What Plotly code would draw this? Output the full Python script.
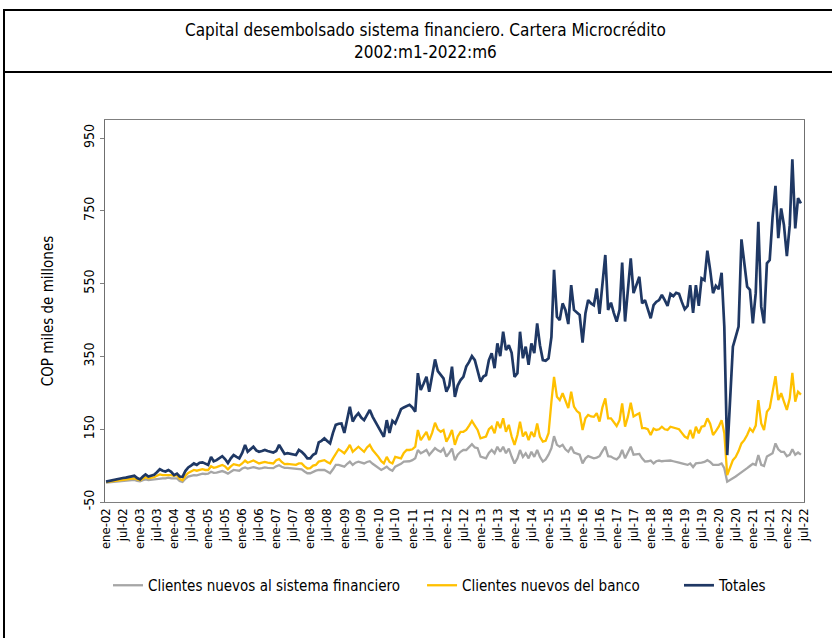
import pandas as pd
import plotly.graph_objects as go

# Monthly disbursements, COP miles de millones, ene-2002 .. jun-2022
clientes_sistema = [
    3, 4, 5, 6, 6, 7, 8, 8, 9, 10, 11, 8,
    7, 10, 12, 10, 11, 12, 14, 16, 15, 15, 17, 15,
    14, 15, 8, 5, 14, 20, 22, 24, 23, 26, 28, 27,
    28, 33, 30, 31, 33, 35, 32, 28, 33, 38, 37, 36,
    42, 45, 42, 44, 46, 44, 42, 43, 45, 44, 44, 43,
    48, 51, 47, 44, 44, 43, 42, 41, 40, 40, 34, 29,
    29, 33, 36, 38, 38, 38, 34, 29, 40, 52, 52, 50,
    47, 55, 61, 52, 58, 61, 58, 56, 60, 62, 55, 49,
    44, 38, 42, 47, 40, 36, 47, 50, 55, 61, 61, 62,
    65, 70, 93, 84, 88, 93, 79, 90, 98, 92, 88, 97,
    75, 85, 97, 65, 80, 88, 93, 93, 100, 109, 100, 98,
    75, 72, 70, 85, 93, 84, 102, 88, 102, 84, 97, 75,
    56, 70, 93, 74, 84, 70, 88, 74, 93, 74, 61, 67,
    80, 98, 131, 107, 102, 107, 95, 88, 102, 86, 82, 80,
    56, 70, 76, 73, 70, 72, 76, 90, 102, 76, 75, 70,
    67, 75, 93, 70, 84, 102, 80, 81, 82, 70, 61, 62,
    64, 56, 62, 64, 62, 63, 64, 64, 62, 61, 58, 56,
    54, 52, 56, 46, 56, 56, 58, 60, 65, 60, 52, 52,
    52, 56, 43, 6, 10, 15, 20, 26, 31, 38, 43, 49,
    55, 52, 79, 52, 49, 75, 80, 84, 111, 95, 88, 88,
    76, 80, 95, 80, 86, 80,
]

clientes_banco = [
    5, 6, 7, 8, 9, 10, 11, 12, 12, 14, 15, 12,
    10, 14, 18, 15, 16, 18, 22, 26, 24, 24, 26, 24,
    22, 24, 14, 10, 22, 30, 34, 38, 36, 38, 40, 38,
    38, 48, 44, 46, 48, 52, 48, 40, 48, 54, 52, 50,
    56, 64, 58, 62, 64, 60, 56, 58, 60, 58, 58, 56,
    65, 68, 60, 54, 55, 54, 52, 52, 56, 56, 48, 42,
    43, 50, 52, 61, 63, 65, 60, 56, 70, 84, 95, 90,
    84, 95, 107, 88, 95, 102, 95, 88, 100, 107, 93, 85,
    74, 62, 56, 74, 60, 56, 74, 72, 70, 85, 93, 93,
    95, 102, 148, 120, 130, 143, 120, 140, 168, 150, 143, 148,
    116, 130, 148, 107, 130, 143, 143, 148, 160, 173, 160, 148,
    125, 128, 130, 150, 157, 139, 171, 153, 180, 143, 162, 130,
    107, 134, 171, 130, 143, 120, 143, 129, 166, 129, 116, 118,
    139, 226, 294, 239, 230, 249, 226, 208, 253, 212, 200, 194,
    148, 180, 189, 185, 184, 194, 171, 210, 235, 180, 180, 170,
    159, 175, 221, 157, 184, 223, 185, 190, 194, 153, 153, 150,
    134, 152, 148, 150, 157, 150, 148, 157, 155, 152, 150, 140,
    130, 125, 148, 125, 157, 139, 157, 159, 180, 165, 134, 145,
    157, 175, 139, 24, 43, 65, 74, 90, 111, 120, 134, 152,
    143, 160, 230, 166, 148, 198, 208, 250, 296, 230, 249, 226,
    203, 235, 305, 226, 253, 245,
]

totales = [
    6, 8, 10, 12, 14, 15, 16, 17, 18, 20, 22, 16,
    12, 20, 26, 20, 22, 25, 32, 40, 36, 34, 38, 33,
    24, 28, 20, 19, 35, 45, 50, 56, 52, 58, 59, 55,
    52, 74, 62, 65, 70, 76, 68, 57, 70, 79, 74, 70,
    85, 107, 88, 95, 102, 92, 88, 90, 93, 90, 88, 86,
    90, 107, 95, 82, 84, 82, 80, 79, 93, 88, 80, 70,
    70, 80, 84, 114, 118, 125, 118, 111, 140, 162, 165, 166,
    140, 175, 212, 171, 185, 194, 182, 175, 190, 203, 184, 170,
    153, 140, 129, 175, 140, 173, 166, 185, 205, 210, 214, 217,
    210, 198, 304, 258, 275, 294, 253, 300, 342, 310, 299, 290,
    253, 270, 322, 239, 270, 285, 294, 322, 335, 351, 340, 310,
    281, 295, 299, 340, 359, 318, 386, 351, 418, 368, 381, 360,
    294, 304, 418, 345, 377, 327, 386, 359, 441, 381, 340, 338,
    345, 404, 588, 459, 450, 496, 478, 439, 546, 478, 470, 464,
    388, 469, 505, 496, 491, 537, 467, 556, 629, 478, 498, 470,
    446, 478, 608, 446, 537, 620, 524, 545, 569, 496, 505, 480,
    455, 491, 500, 505, 519, 505, 489, 522, 516, 525, 522, 500,
    480, 489, 546, 470, 546, 489, 565, 560, 641, 588, 524, 544,
    535, 580, 432, 79, 230, 377, 404, 432, 672, 615, 542, 533,
    441, 524, 720, 487, 441, 606, 615, 734, 819, 675, 757, 711,
    626, 711, 892, 702, 785, 771,
]

series_names = [
    "Clientes nuevos al sistema financiero",
    "Clientes nuevos del banco",
    "Totales",
]
series_colors = ["#A6A6A6", "#FFC000", "#1F3864"]
# extra space after each legend entry (non-breaking spaces)
legend_pad = [4, 8, 0]

y_ticks = [-50, 150, 350, 550, 750, 950]
y_tick_labels = ["-50", "150", "350", "550", "750", "950"]

meses = pd.date_range("2002-01-01", periods=len(totales), freq="MS")
tick_fechas = pd.date_range("2002-01-01", "2022-07-01", freq="6MS")
tick_textos = [("ene" if d.month == 1 else "jul") + "-" + f"{d.year % 100:02d}" for d in tick_fechas]

FONT = "Liberation Sans Narrow, Arial Narrow, DejaVu Sans Condensed, sans-serif"

fig = go.Figure()
for nombre, valores, color, ancho, pad in zip(
    series_names, [clientes_sistema, clientes_banco, totales], series_colors, [2.3, 2.3, 2.7], legend_pad
):
    fig.add_trace(go.Scatter(
        x=meses, y=valores, name=nombre + "\u00a0" * pad, mode="lines",
        line=dict(color=color, width=ancho),
    ))

W, H = 832, 638
L, R, T, B = 105, 28, 120, 136
pw, ph = W - L - R, H - T - B


def px_x(x):
    return (x - L) / pw


def px_y(y):
    return (H - B - y) / ph


fig.update_layout(
    width=W, height=H,
    margin=dict(l=L, r=R, t=T, b=B),
    paper_bgcolor="white", plot_bgcolor="white",
    font=dict(family=FONT, color="#000000", size=14),
    showlegend=True,
    legend=dict(
        orientation="h", x=px_x(440), xanchor="center",
        y=px_y(569), yanchor="top",
        font=dict(size=15, family=FONT),
        itemwidth=30, traceorder="normal",
    ),
    xaxis=dict(
        range=["2001-12-21", "2022-07-04"],
        tickmode="array", tickvals=tick_fechas, ticktext=tick_textos,
        tickangle=-90, tickfont=dict(size=13),
        showgrid=False, zeroline=False,
        showline=True, linecolor="#7F7F7F", linewidth=1, mirror=True,
        ticks="", ticklen=0,
    ),
    yaxis=dict(
        range=[-50, 1000],
        tickmode="array", tickvals=y_ticks, ticktext=y_tick_labels,
        tickangle=-90, tickfont=dict(size=14),
        showgrid=False, zeroline=False,
        showline=True, linecolor="#6F6F6F", linewidth=1, mirror=True,
        ticks="outside", ticklen=4, tickcolor="#7F7F7F",
        title=dict(text="COP miles de millones", font=dict(size=15), standoff=24),
    ),
    shapes=[
        dict(type="rect", xref="paper", yref="paper",
             x0=px_x(4), x1=px_x(834), y0=px_y(10), y1=px_y(642),
             line=dict(color="#000000", width=2), fillcolor="rgba(0,0,0,0)", layer="above"),
        dict(type="line", xref="paper", yref="paper",
             x0=px_x(4), x1=px_x(834), y0=px_y(72), y1=px_y(72),
             line=dict(color="#000000", width=2)),
    ],
    annotations=[
        dict(text="Capital desembolsado sistema financiero. Cartera Microcrédito<br>2002:m1-2022:m6",
             xref="paper", yref="paper", x=px_x(425), y=px_y(41),
             xanchor="center", yanchor="middle", showarrow=False,
             font=dict(size=17, family=FONT), align="center"),
    ],
)

fig.write_html("out.html")
